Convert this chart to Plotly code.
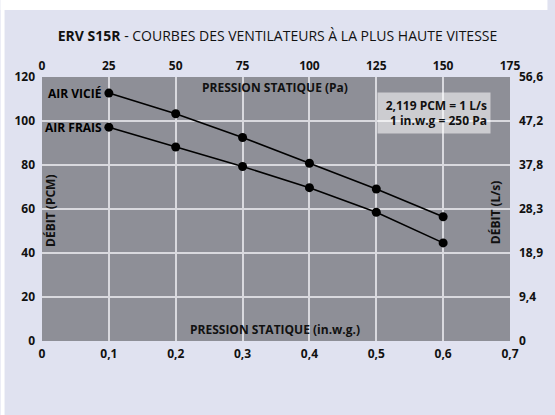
import plotly.graph_objects as go

# Data (x: static pressure in in.w.g., y: flow in PCM/CFM)
pressure_inwg = [0.1, 0.2, 0.3, 0.4, 0.5, 0.6]
air_vicie = [112.7, 103.3, 92.5, 80.8, 69.1, 56.5]
air_frais = [97.2, 88.2, 79.3, 69.7, 58.5, 44.6]

x_ticks = [0, 0.1, 0.2, 0.3, 0.4, 0.5, 0.6, 0.7]
x_tick_labels = ["0", "0,1", "0,2", "0,3", "0,4", "0,5", "0,6", "0,7"]
pa_ticks = [0, 25, 50, 75, 100, 125, 150, 175]
pcm_ticks = [0, 20, 40, 60, 80, 100, 120]
ls_tick_labels = ["0", "9,4", "18,9", "28,3", "37,8", "47,2", "56,6"]
PCM_PER_LS = 2.119

W, H = 555, 415
L, R, T, B = 42, 38, 77, 74
pw, ph = W - L - R, H - T - B

FONT = "Open Sans"
BG = "#e0e2f0"
PLOT = "#8e8f97"
GRID = "#d9d9de"

fig = go.Figure()
for name, ys in [("AIR VICIÉ", air_vicie), ("AIR FRAIS", air_frais)]:
    fig.add_trace(go.Scatter(
        x=pressure_inwg, y=ys, mode="lines+markers", name=name,
        line=dict(color="black", width=1.6),
        marker=dict(color="black", size=9),
        showlegend=False, xaxis="x", yaxis="y"))
    fig.add_annotation(x=pressure_inwg[0], y=ys[0], xref="x", yref="y",
                       text="<b>" + name + "</b>", showarrow=False,
                       xanchor="right", yanchor="middle", xshift=-5,
                       font=dict(family=FONT, size=12, color="black"))

# invisible traces to activate secondary axes
fig.add_trace(go.Scatter(x=[pa_ticks[0], pa_ticks[-1]], y=[0, 0], mode="markers",
                         marker=dict(opacity=0), showlegend=False, hoverinfo="skip",
                         xaxis="x2", yaxis="y"))
fig.add_trace(go.Scatter(x=[0, 0], y=[0, pcm_ticks[-1] / PCM_PER_LS], mode="markers",
                         marker=dict(opacity=0), showlegend=False, hoverinfo="skip",
                         xaxis="x", yaxis="y2"))

tickfont = dict(family=FONT, size=12, color="#111111", weight="bold")

fig.update_layout(
    width=W, height=H,
    margin=dict(l=L, r=R, t=T, b=B),
    paper_bgcolor=BG, plot_bgcolor=PLOT,
    title=dict(text="<b>ERV S15R</b> - COURBES DES VENTILATEURS À LA PLUS HAUTE VITESSE",
               x=0.5, xanchor="center", y=1 - 36 / H, yanchor="middle",
               font=dict(family=FONT, size=14, color="#111111")),
    xaxis=dict(range=[0, 0.7], tickvals=x_ticks, ticktext=x_tick_labels,
               showgrid=True, gridcolor=GRID, gridwidth=1.5, zeroline=False,
               tickfont=tickfont, ticks="", showline=False, ticklabelstandoff=4),
    xaxis2=dict(range=[0, 175], tickvals=pa_ticks, overlaying="x", side="top",
                showgrid=False, zeroline=False, tickfont=tickfont, ticks="",
                ticklabelstandoff=4),
    yaxis=dict(range=[0, 120], tickvals=pcm_ticks,
               showgrid=True, gridcolor=GRID, gridwidth=1.5, zeroline=False,
               tickfont=tickfont, ticks="", ticklabelstandoff=6),
    yaxis2=dict(range=[0, 120 / PCM_PER_LS],
                tickvals=[v / PCM_PER_LS for v in pcm_ticks], ticktext=ls_tick_labels,
                overlaying="y", side="right", showgrid=False, zeroline=False,
                tickfont=tickfont, ticks="", ticklabelstandoff=8),
)

# white border strips (top and left)
def px_x(p):
    return (p - L) / pw

def px_y(p):
    return (H - B - p) / ph

fig.add_shape(type="rect", xref="paper", yref="paper",
              x0=px_x(0), x1=px_x(W), y0=px_y(10), y1=px_y(0),
              fillcolor="white", line=dict(width=0), layer="above")
fig.add_shape(type="rect", xref="paper", yref="paper",
              x0=px_x(0), x1=px_x(4), y0=px_y(H), y1=px_y(0),
              fillcolor="white", line=dict(width=0), layer="above")

ann_font = dict(family=FONT, size=12, color="#111111")
ann_common = dict(xref="paper", yref="paper", showarrow=False,
                  xanchor="center", yanchor="middle")
fig.add_annotation(x=px_x(278), y=px_y(88), text="<b>PRESSION STATIQUE (Pa)</b>",
                   font=ann_font, **ann_common)
fig.add_annotation(x=px_x(278), y=px_y(329), text="<b>PRESSION STATIQUE (in.w.g.)</b>",
                   font=ann_font, **ann_common)
fig.add_annotation(x=px_x(50), y=px_y(211), text="<b>DÉBIT (PCM)</b>", textangle=-90,
                   font=dict(family=FONT, size=12, color="#111111"), **ann_common)
fig.add_annotation(x=px_x(502), y=px_y(212), text="<b>DÉBIT (L/s)</b>", textangle=-90,
                   font=dict(family=FONT, size=12, color="#111111"), **ann_common)
fig.add_annotation(x=px_x(440), y=px_y(113),
                   text="<b>2,119 PCM = 1 L/s<br>1 in.w.g = 250 Pa</b>",
                   align="right", width=106, height=34,
                   bgcolor="rgba(255,255,255,0.55)", borderpad=3,
                   font=dict(family=FONT, size=12, color="#111111"), **ann_common)

fig.write_html("out.html",
               config={"displayModeBar": False},
               post_script="document.body.style.margin='0';document.body.style.overflow='hidden';")
